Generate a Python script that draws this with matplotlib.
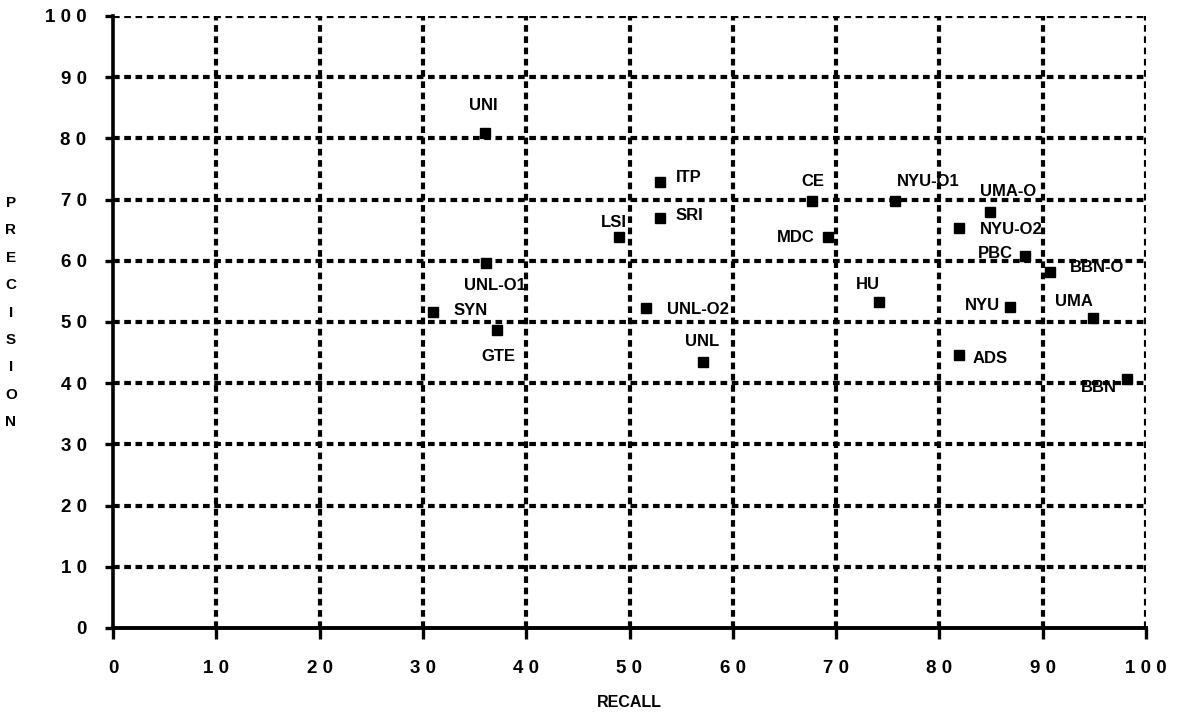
import matplotlib
matplotlib.use("Agg")
import matplotlib.pyplot as plt
from matplotlib.ticker import FuncFormatter

# Data
systems = ["UNI", "ITP", "SRI", "LSI", "UNL-O1", "SYN", "GTE", "UNL-O2", "UNL",
           "CE", "NYU-O1", "UMA-O", "MDC", "NYU-O2", "PBC", "BBN-O", "HU", "NYU",
           "UMA", "ADS", "BBN"]
recall = [36.0, 53.0, 53.0, 49.0, 36.1, 31.0, 37.2, 51.6, 57.1,
          67.7, 75.7, 84.9, 69.2, 81.9, 88.3, 90.7, 74.2, 86.8,
          94.9, 81.9, 98.2]
precision = [80.9, 72.9, 67.0, 63.9, 59.6, 51.6, 48.7, 52.3, 43.5,
             69.8, 69.8, 68.0, 63.9, 65.4, 60.8, 58.2, 53.3, 52.5,
             50.7, 44.6, 40.7]
ticks = [0, 10, 20, 30, 40, 50, 60, 70, 80, 90, 100]

# Label placement: (dx px, dy px, horizontal alignment)
label_place = {
    "UNI": (-2, 27, "center"), "ITP": (15, 4, "left"), "SRI": (15, 2, "left"),
    "LSI": (8, 14, "right"), "UNL-O1": (9, -22, "center"), "SYN": (20, 2, "left"),
    "GTE": (1, -27, "center"), "UNL-O2": (21, -2, "left"), "UNL": (-1, 20, "center"),
    "CE": (1, 19, "center"), "NYU-O1": (33, 19, "center"), "UMA-O": (18, 20, "center"),
    "MDC": (-13, -1, "right"), "NYU-O2": (21, -2, "left"), "PBC": (-12, 2, "right"),
    "BBN-O": (20, 4, "left"), "HU": (-12, 17, "center"), "NYU": (-10, 1, "right"),
    "UMA": (-19, 16, "center"), "ADS": (14, -3, "left"), "BBN": (-29, -9, "center"),
}

FONT = ["Liberation Sans", "DejaVu Sans"]
plt.rcParams["font.family"] = FONT
plt.rcParams["font.weight"] = "bold"


def spacedDigits(v, pos):
    return " ".join(str(int(round(v))))


fig = plt.figure(figsize=(11.82, 7.21), dpi=100)
ax = fig.add_axes([113 / 1182, 93 / 721, 1033 / 1182, 612 / 721])

# Dashed grid, also acting as top / right border
grid_style = dict(color="black", linewidth=3.0, linestyle=(0, (1.6, 1.1)), zorder=1)
for t in ticks[1:]:
    ax.axvline(t, **grid_style)
    ax.axhline(t, **grid_style)

ax.plot(recall, precision, linestyle="none", marker="s", markersize=7.5,
        color="black", zorder=3)

for name, x, y in zip(systems, recall, precision):
    dx, dy, ha = label_place[name]
    ax.annotate(name, (x, y), xytext=(dx, dy), textcoords="offset pixels",
                ha=ha, va="center", fontsize=12, fontweight="bold",
                family=FONT, zorder=4)

ax.set_xlim(0, 100)
ax.set_ylim(0, 100)
ax.set_xticks(ticks)
ax.set_yticks(ticks)
ax.xaxis.set_major_formatter(FuncFormatter(spacedDigits))
ax.yaxis.set_major_formatter(FuncFormatter(spacedDigits))
ax.tick_params(axis="x", direction="out", length=8, width=2.4, pad=15, labelsize=13.5)
ax.tick_params(axis="y", direction="out", length=6, width=2.4, pad=13, labelsize=13.5)
for lbl in ax.get_xticklabels() + ax.get_yticklabels():
    lbl.set_fontweight("bold")

ax.spines["top"].set_visible(False)
ax.spines["right"].set_visible(False)
ax.spines["left"].set_linewidth(2.6)
ax.spines["bottom"].set_linewidth(2.8)

ax.set_xlabel("RECALL", fontsize=11.5, fontweight="bold", labelpad=13)

# Vertical stacked y label
for i, ch in enumerate("PRECISION"):
    fig.text(11 / 1182, 1 - (203 + i * 27.4) / 721, ch, ha="center", va="center",
             fontsize=11, fontweight="bold")

fig.savefig("out.png", dpi=100)
